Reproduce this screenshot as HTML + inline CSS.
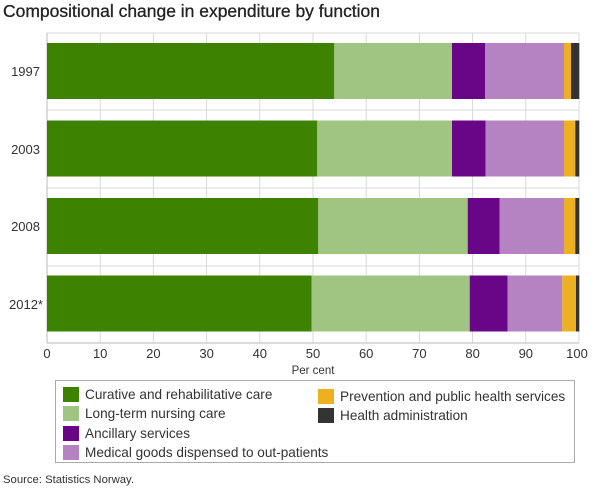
<!DOCTYPE html>
<html><head><style>
body{margin:0;background:#fff;}
svg{display:block;font-family:"Liberation Sans",sans-serif;}
</style></head><body>
<svg width="610" height="488" viewBox="0 0 610 488">
<text x="3" y="17" font-size="17.5" fill="#222" textLength="377" lengthAdjust="spacing" stroke="#222" stroke-width="0.3">Compositional change in expenditure by function</text>
<g stroke="#d9d9d9" stroke-width="1">
<line x1="47" y1="33" x2="579" y2="33"/>
<line x1="47" y1="110" x2="579" y2="110"/>
<line x1="47" y1="188" x2="579" y2="188"/>
<line x1="47" y1="266" x2="579" y2="266"/>
<line x1="100.2" y1="33" x2="100.2" y2="343"/>
<line x1="153.4" y1="33" x2="153.4" y2="343"/>
<line x1="206.6" y1="33" x2="206.6" y2="343"/>
<line x1="259.8" y1="33" x2="259.8" y2="343"/>
<line x1="313" y1="33" x2="313" y2="343"/>
<line x1="366.2" y1="33" x2="366.2" y2="343"/>
<line x1="419.4" y1="33" x2="419.4" y2="343"/>
<line x1="472.6" y1="33" x2="472.6" y2="343"/>
<line x1="525.8" y1="33" x2="525.8" y2="343"/>
<line x1="579" y1="33" x2="579" y2="343"/>
</g>
<line x1="47" y1="343" x2="579" y2="343" stroke="#bbb"/>
<line x1="47" y1="33" x2="47" y2="343" stroke="#bbb"/>
<g transform="translate(0,43)">
<rect x="47" width="287.3" height="56" fill="#3d8200"/>
<rect x="334.3" width="117.7" height="56" fill="#a0c482"/>
<rect x="452" width="33" height="56" fill="#690687"/>
<rect x="485" width="79" height="56" fill="#b583c2"/>
<rect x="564" width="7" height="56" fill="#ecb021"/>
<rect x="571" width="8.3" height="56" fill="#333"/>
</g>
<g transform="translate(0,120.5)">
<rect x="47" width="270.3" height="56" fill="#3d8200"/>
<rect x="317.3" width="134.7" height="56" fill="#a0c482"/>
<rect x="452" width="33.7" height="56" fill="#690687"/>
<rect x="485.7" width="78.3" height="56" fill="#b583c2"/>
<rect x="564" width="11.3" height="56" fill="#ecb021"/>
<rect x="575.3" width="4" height="56" fill="#333"/>
</g>
<g transform="translate(0,198)">
<rect x="47" width="271.3" height="56" fill="#3d8200"/>
<rect x="318.3" width="149.4" height="56" fill="#a0c482"/>
<rect x="467.7" width="32" height="56" fill="#690687"/>
<rect x="499.7" width="64.3" height="56" fill="#b583c2"/>
<rect x="564" width="11.3" height="56" fill="#ecb021"/>
<rect x="575.3" width="4" height="56" fill="#333"/>
</g>
<g transform="translate(0,275.5)">
<rect x="47" width="264.7" height="56" fill="#3d8200"/>
<rect x="311.7" width="158" height="56" fill="#a0c482"/>
<rect x="469.7" width="38" height="56" fill="#690687"/>
<rect x="507.7" width="54.6" height="56" fill="#b583c2"/>
<rect x="562.3" width="13.7" height="56" fill="#ecb021"/>
<rect x="576" width="3.3" height="56" fill="#333"/>
</g>
<g font-size="13" fill="#333" text-anchor="end">
<text x="40" y="76">1997</text>
<text x="40" y="154">2003</text>
<text x="40" y="231">2008</text>
<text x="43" y="309">2012*</text>
</g>
<g font-size="13" fill="#333" text-anchor="middle">
<text x="47" y="358">0</text><text x="100.2" y="358">10</text><text x="153.4" y="358">20</text>
<text x="206.6" y="358">30</text><text x="259.8" y="358">40</text><text x="313" y="358">50</text>
<text x="366.2" y="358">60</text><text x="419.4" y="358">70</text><text x="472.6" y="358">80</text>
<text x="525.8" y="358">90</text><text x="577" y="358">100</text>
<text x="313" y="374" font-size="11.5">Per cent</text>
</g>
<rect x="55.5" y="380.5" width="519" height="82" fill="#fff" stroke="#aaa"/>
<g font-size="13.6" fill="#333">
<rect x="63" y="387" width="16" height="15" fill="#3d8200"/><text x="85" y="399">Curative and rehabilitative care</text>
<rect x="63" y="406" width="16" height="15" fill="#a0c482"/><text x="85" y="418">Long-term nursing care</text>
<rect x="63" y="426" width="16" height="15" fill="#690687"/><text x="85" y="438">Ancillary services</text>
<rect x="63" y="445" width="16" height="15" fill="#b583c2"/><text x="85" y="457">Medical goods dispensed to out-patients</text>
<rect x="318" y="389" width="16" height="15" fill="#ecb021"/><text x="340" y="401">Prevention and public health services</text>
<rect x="318" y="408" width="16" height="15" fill="#333"/><text x="340" y="420">Health administration</text>
</g>
<text x="3" y="483" font-size="11.3" fill="#333">Source: Statistics Norway.</text>
</svg>
</body></html>
